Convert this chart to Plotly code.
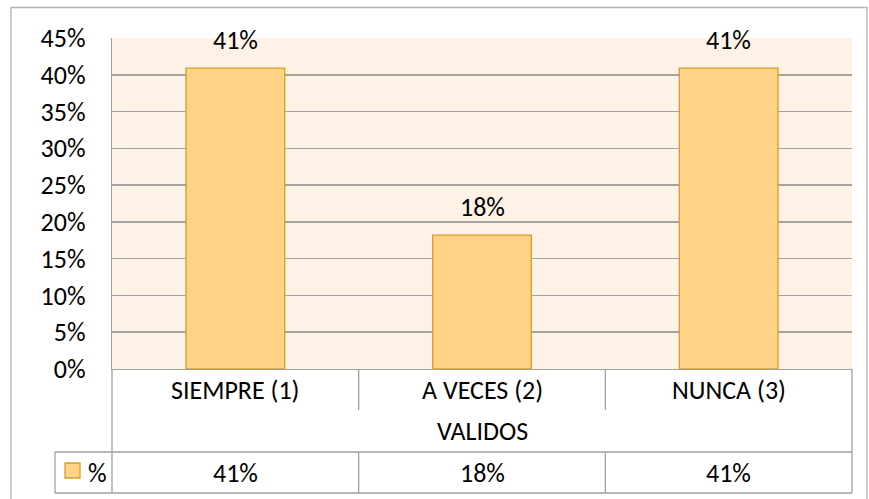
import plotly.graph_objects as go

categories = ["SIEMPRE (1)", "A VECES (2)", "NUNCA (3)"]
group_label = "VALIDOS"
series_name = "%"
values = [0.409, 0.182, 0.409]
y_ticks = [0, 0.05, 0.10, 0.15, 0.20, 0.25, 0.30, 0.35, 0.40, 0.45]

W, H = 869, 499
L, R, T, B = 112, 852, 38, 369  # plot area in pixels
FONT = "Calibri, Lato, sans-serif"
FS = 26
GRID = "#A3A3A3"
LINE = "#A0A0A0"
BAR_FILL = "#FFD285"
BAR_EDGE = "#D4A02A"
PLOT_BG = "#FEF1E5"


def px_x(p):
    return (p - L) / (R - L)


def px_y(p):
    return (B - p) / (B - T)


fig = go.Figure()
fig.add_trace(go.Bar(
    x=categories, y=values, name=series_name, width=0.4,
    marker=dict(color=BAR_FILL, line=dict(color=BAR_EDGE, width=1.3)),
    showlegend=False, hoverinfo="skip",
))

shapes = []
annotations = []

# outer chart border
shapes.append(dict(type="rect", xref="paper", yref="paper",
                   x0=px_x(11), x1=px_x(867), y0=px_y(505), y1=px_y(7.5),
                   line=dict(color="#B4B4B4", width=1.3), layer="below"))

row1, row2, row3 = 410, 452, 493
line = dict(color=LINE, width=1.3)
shapes.append(dict(type="line", xref="paper", yref="paper",
                   x0=0, x1=0, y0=px_y(B), y1=px_y(row3), line=line))
shapes.append(dict(type="line", xref="paper", yref="paper",
                   x0=1, x1=1, y0=px_y(B), y1=px_y(row3), line=line))
shapes.append(dict(type="line", xref="paper", yref="paper",
                   x0=px_x(55), x1=1, y0=px_y(row2), y1=px_y(row2), line=line))
shapes.append(dict(type="line", xref="paper", yref="paper",
                   x0=px_x(55), x1=1, y0=px_y(row3), y1=px_y(row3), line=line))
shapes.append(dict(type="line", xref="paper", yref="paper",
                   x0=px_x(55), x1=px_x(55), y0=px_y(row2), y1=px_y(row3), line=line))
for i in range(len(categories) - 1):
    xb = i + 0.5
    shapes.append(dict(type="line", xref="x", yref="paper",
                       x0=xb, x1=xb, y0=px_y(B), y1=px_y(row1), line=line))
    shapes.append(dict(type="line", xref="x", yref="paper",
                       x0=xb, x1=xb, y0=px_y(row2), y1=px_y(row3), line=line))
shapes.append(dict(type="rect", xref="paper", yref="paper",
                   x0=px_x(65), x1=px_x(80), y0=px_y(478), y1=px_y(463),
                   fillcolor=BAR_FILL, line=dict(color=BAR_EDGE, width=1.3)))

font = dict(family=FONT, size=FS, color="#000000")
for c, v in zip(categories, values):
    annotations.append(dict(x=c, y=v, xref="x", yref="y", text=f"{v:.0%}",
                            showarrow=False, yanchor="bottom", yshift=10, font=font))
for c in categories:
    annotations.append(dict(x=c, y=px_y((B + row1) / 2), xref="x", yref="paper",
                            text=c, showarrow=False, yanchor="middle", font=font))
annotations.append(dict(x=0.5, y=px_y((row1 + row2) / 2), xref="paper", yref="paper",
                        text=group_label, showarrow=False, yanchor="middle", font=font))
for c, v in zip(categories, values):
    annotations.append(dict(x=c, y=px_y((row2 + row3) / 2), xref="x", yref="paper",
                            text=f"{v:.0%}", showarrow=False, yanchor="middle", font=font))
annotations.append(dict(x=px_x(86), y=px_y((row2 + row3) / 2), xref="paper", yref="paper",
                        text=series_name, showarrow=False, xanchor="left", yanchor="middle",
                        font=font))

fig.update_layout(
    width=W, height=H,
    margin=dict(l=L, r=W - R, t=T, b=H - B, pad=0),
    paper_bgcolor="white",
    plot_bgcolor=PLOT_BG,
    font=font,
    shapes=shapes,
    annotations=annotations,
    showlegend=False,
    hovermode=False,
)
fig.update_xaxes(showticklabels=False, showline=True, linecolor=LINE, linewidth=1.3,
                 showgrid=False, ticks="", range=[-0.5, 2.5])
fig.update_yaxes(range=[0, 0.45], tickvals=y_ticks, tickformat=".0%",
                 showgrid=True, gridcolor=GRID, gridwidth=1.5,
                 showline=True, linecolor=LINE, linewidth=1.3,
                 ticks="", ticklabelstandoff=20, zeroline=False,
                 tickfont=font)

fig.write_html("out.html", config={"displayModeBar": False, "staticPlot": True},
               post_script="document.body.style.margin='0';document.body.style.overflow='hidden';")
